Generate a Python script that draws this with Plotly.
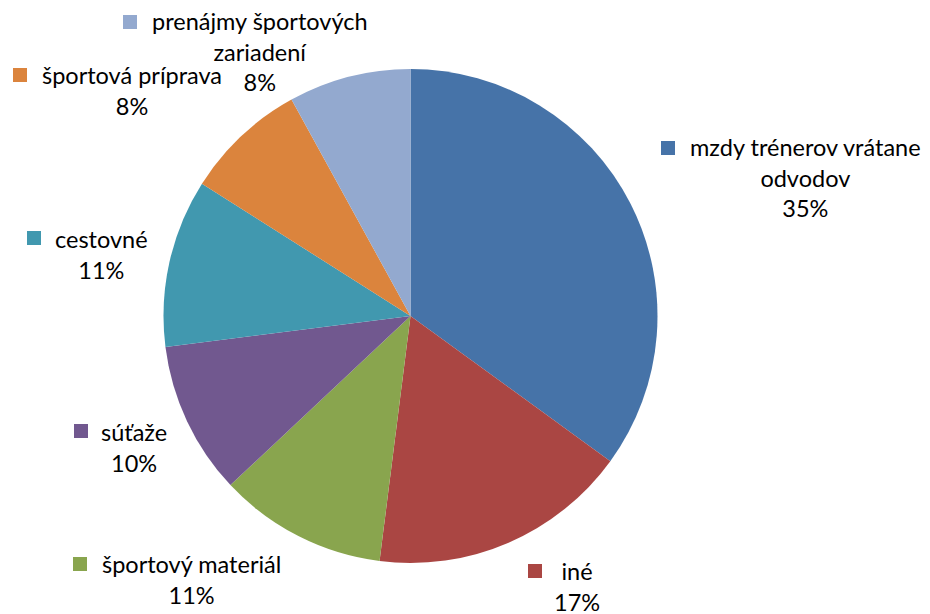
import plotly.graph_objects as go

# Cost breakdown (share of total, %), clockwise from 12 o'clock
categories = [
    "mzdy trénerov vrátane odvodov",
    "iné",
    "športový materiál",
    "súťaže",
    "cestovné",
    "športová príprava",
    "prenájmy športových zariadení",
]
shares = [35, 17, 11, 10, 11, 8, 8]

# Label line breaks as shown next to the pie
label_lines = [
    ["mzdy trénerov vrátane", "odvodov"],
    ["iné"],
    ["športový materiál"],
    ["súťaže"],
    ["cestovné"],
    ["športová príprava"],
    ["prenájmy športových", "zariadení"],
]

colors = ["#4673A8", "#AA4643", "#89A54E", "#71588F", "#4198AF", "#DB843D", "#93A9CF"]

W, H = 930, 614
FONT = "Lato"
FSIZE = 23.5

# Label placement in pixels: text centre x, first-line centre y, key square left/top
label_pos = [
    (805, 147, 661, 141),
    (577, 571, 528, 564),
    (191, 564, 73, 557),
    (134, 432, 74, 424),
    (101, 239, 27, 231),
    (132, 75, 13, 68),
    (260, 21, 123, 15),
]
LINE_H = 1.3 * FSIZE
KEY = 14

cx, cy, r = 410.5, 316, 247

fig = go.Figure(
    go.Pie(
        labels=categories,
        values=shares,
        sort=False,
        direction="clockwise",
        rotation=0,
        marker=dict(colors=colors, line=dict(width=0)),
        textinfo="none",
        hoverinfo="label+percent",
        showlegend=False,
        domain=dict(
            x=[(cx - r) / W, (cx + r) / W],
            y=[(H - cy - r) / H, (H - cy + r) / H],
        ),
    )
)

total = sum(shares)
annotations = []
shapes = []
for lines, val, col, (tx, ty, kx, ky) in zip(label_lines, shares, colors, label_pos):
    pct = f"{round(100 * val / total)}%"
    all_lines = lines + [pct]
    mid_y = ty + (len(all_lines) - 1) * LINE_H / 2
    annotations.append(
        dict(
            x=tx / W,
            y=1 - mid_y / H,
            xref="paper",
            yref="paper",
            xanchor="center",
            yanchor="middle",
            text="<br>".join(all_lines),
            showarrow=False,
            align="center",
            font=dict(family=FONT, size=FSIZE, color="#000000"),
        )
    )
    shapes.append(
        dict(
            type="rect",
            xref="paper",
            yref="paper",
            x0=kx / W,
            x1=(kx + KEY) / W,
            y0=1 - (ky + KEY) / H,
            y1=1 - ky / H,
            fillcolor=col,
            line=dict(width=0),
        )
    )

fig.update_layout(
    width=W,
    height=H,
    margin=dict(l=0, r=0, t=0, b=0),
    paper_bgcolor="#FFFFFF",
    plot_bgcolor="#FFFFFF",
    annotations=annotations,
    shapes=shapes,
)

fig.write_html("out.html")
